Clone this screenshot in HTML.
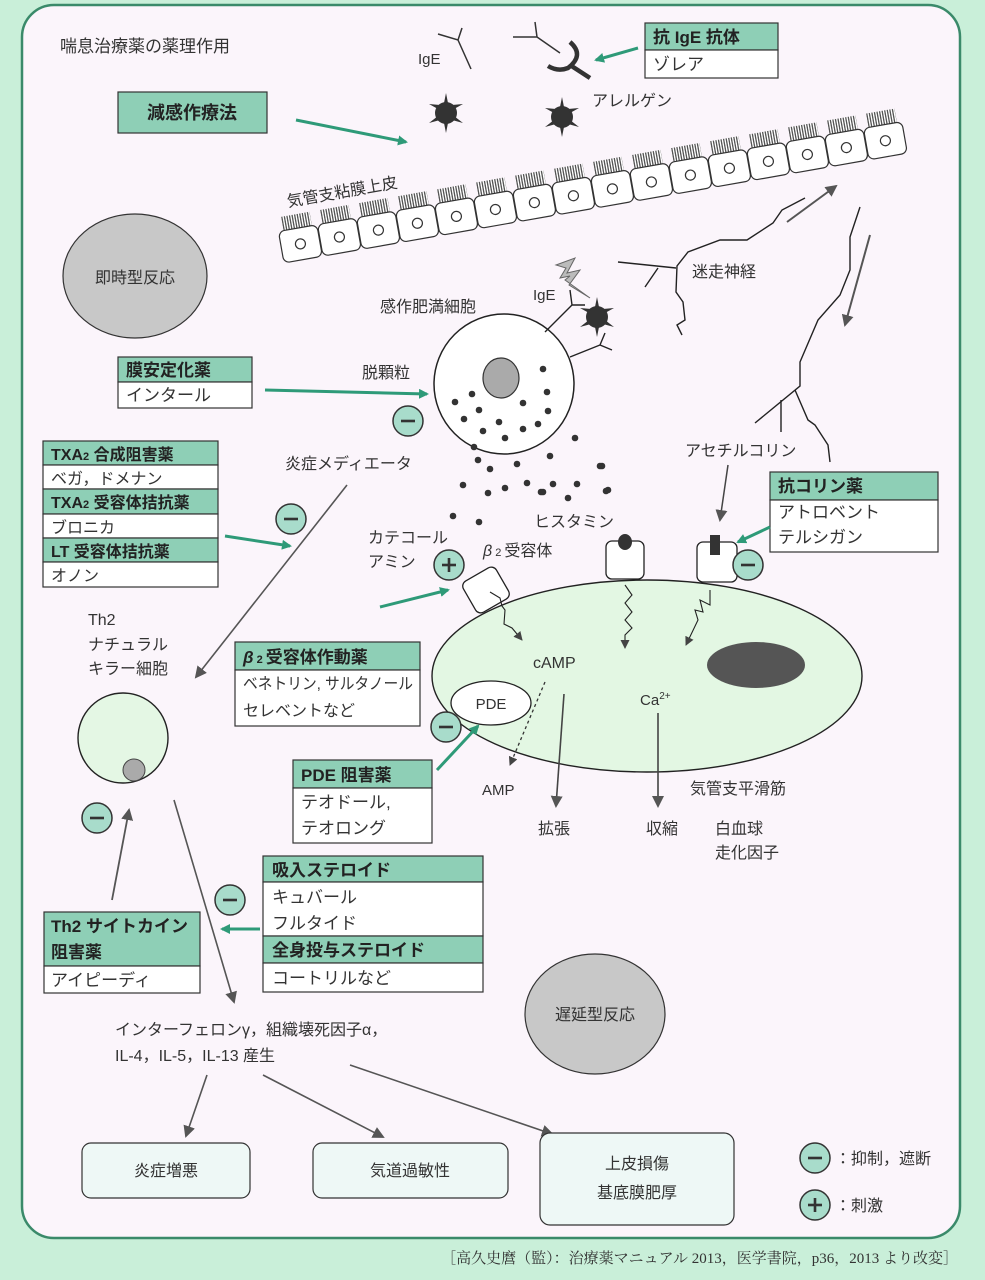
<!DOCTYPE html>
<html><head><meta charset="utf-8">
<style>
html,body{margin:0;padding:0;background:#c9efd9;}
svg{display:block;}
text{font-family:"Liberation Sans","Noto Sans CJK JP",sans-serif;fill:#333;}
.b{font-weight:bold;fill:#222;}
</style></head><body>
<svg width="985" height="1280" viewBox="0 0 985 1280" xmlns="http://www.w3.org/2000/svg">
<defs>
<marker id="ga" markerWidth="10" markerHeight="10" refX="8" refY="5" orient="auto" markerUnits="userSpaceOnUse" viewBox="0 0 10 10"><path d="M0,0 L10,5 L0,10 z" fill="#2e9a78"/></marker>
<marker id="ka" markerWidth="12" markerHeight="12" refX="10" refY="6" orient="auto" markerUnits="userSpaceOnUse" viewBox="0 0 12 12"><path d="M0,0 L12,6 L0,12 z" fill="#555"/></marker>
<marker id="sa" markerWidth="9" markerHeight="9" refX="8" refY="4.5" orient="auto" markerUnits="userSpaceOnUse" viewBox="0 0 9 9"><path d="M0,0 L9,4.5 L0,9 z" fill="#444"/></marker>
<pattern id="cil" width="2.6" height="20" patternUnits="userSpaceOnUse"><rect width="2.6" height="20" fill="#fff"/><rect width="1.3" height="20" fill="#555"/></pattern>
<g id="cell"><rect x="5" y="-14" width="29" height="14" fill="url(#cil)"/><rect x="0" y="0" width="39" height="32" rx="6" fill="#fff" stroke="#333" stroke-width="1.2"/><circle cx="19.5" cy="16" r="5" fill="#fff" stroke="#333" stroke-width="1.2"/></g>
<g id="al"><circle r="11" fill="#333"/><path d="M0,-20 L2,-10 L-2,-10 z M0,20 L2,10 L-2,10 z M-17,-9 L-8,-4 L-6,-8 z M17,-9 L8,-4 L6,-8 z M-17,10 L-8,3 L-6,7 z M17,10 L8,3 L6,7 z" fill="#333"/></g>
<g id="mi"><circle r="15" fill="#a8dccb" stroke="#333" stroke-width="1.5"/><rect x="-7" y="-1.3" width="14" height="2.6" fill="#333"/></g>
<g id="pl"><circle r="15" fill="#a8dccb" stroke="#333" stroke-width="1.5"/><rect x="-7" y="-1.3" width="14" height="2.6" fill="#333"/><rect x="-1.3" y="-7" width="2.6" height="14" fill="#333"/></g>
</defs>

<rect x="22" y="5" width="938" height="1233" rx="32" fill="#fbf5fb" stroke="#3a8a6a" stroke-width="2.5"/>

<text x="60" y="52" font-size="17">喘息治療薬の薬理作用</text>

<text x="418" y="64" font-size="15">IgE</text>
<path d="M438,34 L458,40 L462,28 M458,40 L471,69" stroke="#333" stroke-width="1.5" fill="none"/>
<use href="#al" x="446" y="113"/>
<use href="#al" x="562" y="117"/>
<text x="592" y="106" font-size="16">アレルゲン</text>
<path d="M513,37 L537,37 L535,22 M537,37 L560,53" stroke="#333" stroke-width="1.5" fill="none"/>
<path d="M570,42 Q585,55 568,68 Q558,72 548,66 M570,65 L590,78" stroke="#333" stroke-width="4.5" fill="none"/>
<line x1="638" y1="48" x2="596" y2="60" stroke="#2e9a78" stroke-width="3" marker-end="url(#ga)"/>
<rect x="645" y="23" width="133" height="27" fill="#8ecfb6" stroke="#333" stroke-width="1.2"/>
<rect x="645" y="50" width="133" height="28" fill="#fff" stroke="#333" stroke-width="1.2"/>
<text x="653" y="43" font-size="17" class="b">抗 IgE 抗体</text>
<text x="653" y="70" font-size="17">ゾレア</text>

<rect x="118" y="92" width="149" height="41" fill="#8ecfb6" stroke="#333" stroke-width="1.2"/>
<text x="147" y="119" font-size="18" class="b">減感作療法</text>
<line x1="296" y1="120" x2="406" y2="142" stroke="#2e9a78" stroke-width="3" marker-end="url(#ga)"/>

<g transform="translate(284,263) rotate(-10)">
<use href="#cell" x="0" y="-32"/><use href="#cell" x="39.6" y="-32"/><use href="#cell" x="79.2" y="-32"/><use href="#cell" x="118.8" y="-32"/>
<use href="#cell" x="158.4" y="-32"/><use href="#cell" x="198" y="-32"/><use href="#cell" x="237.6" y="-32"/><use href="#cell" x="277.2" y="-32"/>
<use href="#cell" x="316.8" y="-32"/><use href="#cell" x="356.4" y="-32"/><use href="#cell" x="396" y="-32"/><use href="#cell" x="435.6" y="-32"/>
<use href="#cell" x="475.2" y="-32"/><use href="#cell" x="514.8" y="-32"/><use href="#cell" x="554.4" y="-32"/><use href="#cell" x="594" y="-32"/>
</g>
<text x="288" y="207" font-size="16" transform="rotate(-10 288 207)">気管支粘膜上皮</text>

<ellipse cx="135" cy="276" rx="72" ry="62" fill="#c8c8c8" stroke="#333" stroke-width="1.2"/>
<text x="135" y="283" font-size="16" text-anchor="middle">即時型反応</text>

<polyline points="805,198 782,210 773,223 747,240 720,240 688,252 677,266 676,292 683,302 685,320 677,325 682,335" fill="none" stroke="#222" stroke-width="1.4"/>
<path d="M618,262 L676,268 M658,268 L645,287" stroke="#222" stroke-width="1.4" fill="none"/>
<polyline points="860,207 850,237 850,270 840,295 818,320 800,362 800,386 755,423" fill="none" stroke="#222" stroke-width="1.4"/>
<path d="M781,400 L781,432 M795,390 L808,420 L815,425 L828,445 L830,462" stroke="#222" stroke-width="1.4" fill="none"/>
<line x1="787" y1="222" x2="836" y2="186" stroke="#555" stroke-width="2" marker-end="url(#ka)"/>
<line x1="870" y1="235" x2="845" y2="325" stroke="#555" stroke-width="2" marker-end="url(#ka)"/>
<text x="692" y="277" font-size="16">迷走神経</text>

<circle cx="504" cy="384" r="70" fill="#fff" stroke="#222" stroke-width="1.5"/>
<ellipse cx="501" cy="378" rx="18" ry="20" fill="#aaa" stroke="#333" stroke-width="1.2"/>
<path d="M545,332 L572,305 L570,290 M572,305 L585,305 M570,357 L600,345 L605,333 M600,345 L612,350" stroke="#222" stroke-width="1.4" fill="none"/>
<use href="#al" x="597" y="317"/>
<path d="M556,265 L575,258 L567,273 L580,270 L569,285 L590,298 L565,280 L570,276 L560,278 L566,268 z" fill="#bbb" stroke="#666" stroke-width="1"/>
<text x="533" y="300" font-size="15">IgE</text>
<text x="380" y="312" font-size="16">感作肥満細胞</text>
<text x="362" y="378" font-size="16">脱顆粒</text>
<g fill="#333">
<circle cx="543" cy="369" r="3.3"/><circle cx="547" cy="392" r="3.3"/><circle cx="548" cy="411" r="3.3"/><circle cx="472" cy="394" r="3.3"/><circle cx="455" cy="402" r="3.3"/><circle cx="479" cy="410" r="3.3"/><circle cx="523" cy="403" r="3.3"/><circle cx="464" cy="419" r="3.3"/><circle cx="499" cy="422" r="3.3"/><circle cx="538" cy="424" r="3.3"/><circle cx="523" cy="429" r="3.3"/><circle cx="483" cy="431" r="3.3"/><circle cx="505" cy="438" r="3.3"/>
<circle cx="474" cy="447" r="3.3"/><circle cx="575" cy="438" r="3.3"/><circle cx="478" cy="460" r="3.3"/><circle cx="490" cy="469" r="3.3"/><circle cx="517" cy="464" r="3.3"/><circle cx="550" cy="456" r="3.3"/><circle cx="602" cy="466" r="3.3"/><circle cx="463" cy="485" r="3.3"/><circle cx="488" cy="493" r="3.3"/><circle cx="505" cy="488" r="3.3"/><circle cx="527" cy="483" r="3.3"/><circle cx="543" cy="492" r="3.3"/><circle cx="553" cy="484" r="3.3"/><circle cx="577" cy="484" r="3.3"/><circle cx="608" cy="490" r="3.3"/><circle cx="568" cy="498" r="3.3"/><circle cx="453" cy="516" r="3.3"/><circle cx="479" cy="522" r="3.3"/><circle cx="606" cy="491" r="3.3"/><circle cx="541" cy="492" r="3.3"/><circle cx="600" cy="466" r="3.3"/>
</g>
<text x="534" y="527" font-size="16">ヒスタミン</text>
<line x1="265" y1="390" x2="427" y2="394" stroke="#2e9a78" stroke-width="3" marker-end="url(#ga)"/>
<use href="#mi" x="408" y="421"/>

<rect x="118" y="357" width="134" height="25" fill="#8ecfb6" stroke="#333" stroke-width="1.2"/>
<rect x="118" y="382" width="134" height="26" fill="#fff" stroke="#333" stroke-width="1.2"/>
<text x="126" y="376" font-size="17" class="b">膜安定化薬</text>
<text x="126" y="401" font-size="17">インタール</text>

<g stroke="#333" stroke-width="1.2">
<rect x="43" y="441" width="175" height="24" fill="#8ecfb6"/><rect x="43" y="465" width="175" height="24" fill="#fff"/>
<rect x="43" y="489" width="175" height="25" fill="#8ecfb6"/><rect x="43" y="514" width="175" height="24" fill="#fff"/>
<rect x="43" y="538" width="175" height="24" fill="#8ecfb6"/><rect x="43" y="562" width="175" height="25" fill="#fff"/>
</g>
<text x="51" y="460" font-size="16" class="b">TXA<tspan font-size="11">2</tspan> 合成阻害薬</text>
<text x="51" y="484" font-size="16">ベガ，ドメナン</text>
<text x="51" y="508" font-size="16" class="b">TXA<tspan font-size="11">2</tspan> 受容体拮抗薬</text>
<text x="51" y="533" font-size="16">ブロニカ</text>
<text x="51" y="557" font-size="16" class="b">LT 受容体拮抗薬</text>
<text x="51" y="581" font-size="16">オノン</text>

<text x="285" y="469" font-size="16">炎症メディエータ</text>
<line x1="347" y1="485" x2="196" y2="677" stroke="#555" stroke-width="1.6" marker-end="url(#ka)"/>
<use href="#mi" x="291" y="519"/>
<line x1="225" y1="536" x2="290" y2="546" stroke="#2e9a78" stroke-width="3" marker-end="url(#ga)"/>

<text x="368" y="543" font-size="16">カテコール</text>
<text x="368" y="567" font-size="16">アミン</text>
<use href="#pl" x="449" y="565"/>
<text x="483" y="556" font-size="16"><tspan font-style="italic">β</tspan><tspan font-size="11"> 2 </tspan>受容体</text>
<line x1="380" y1="607" x2="448" y2="590" stroke="#2e9a78" stroke-width="3" marker-end="url(#ga)"/>

<text x="88" y="625" font-size="16">Th2</text>
<text x="88" y="650" font-size="16">ナチュラル</text>
<text x="88" y="674" font-size="16">キラー細胞</text>

<ellipse cx="647" cy="676" rx="215" ry="96" fill="#e3f7e3" stroke="#222" stroke-width="1.4"/>
<ellipse cx="756" cy="665" rx="49" ry="23" fill="#555"/>
<ellipse cx="491" cy="703" rx="40" ry="22" fill="#fff" stroke="#222" stroke-width="1.3"/>
<text x="491" y="709" font-size="15" text-anchor="middle">PDE</text>
<text x="533" y="668" font-size="16">cAMP</text>
<text x="640" y="705" font-size="15">Ca<tspan font-size="10" dy="-6">2+</tspan></text>
<line x1="545" y1="682" x2="510" y2="765" stroke="#333" stroke-width="1.3" stroke-dasharray="3,3" marker-end="url(#sa)"/>
<text x="482" y="795" font-size="15">AMP</text>
<line x1="564" y1="694" x2="556" y2="806" stroke="#444" stroke-width="1.6" marker-end="url(#ka)"/>
<line x1="658" y1="713" x2="658" y2="806" stroke="#444" stroke-width="1.6" marker-end="url(#ka)"/>
<text x="538" y="834" font-size="16">拡張</text>
<text x="646" y="834" font-size="16">収縮</text>
<text x="715" y="834" font-size="16">白血球</text>
<text x="715" y="858" font-size="16">走化因子</text>
<text x="690" y="794" font-size="16">気管支平滑筋</text>

<rect x="467" y="572" width="38" height="36" rx="6" fill="#fff" stroke="#222" stroke-width="1.3" transform="rotate(-30 486 590)"/>
<rect x="606" y="541" width="38" height="38" rx="6" fill="#fff" stroke="#222" stroke-width="1.3"/>
<ellipse cx="625" cy="542" rx="7" ry="8" fill="#333"/>
<rect x="697" y="542" width="40" height="40" rx="6" fill="#fff" stroke="#222" stroke-width="1.3"/>
<rect x="710" y="535" width="10" height="20" fill="#333"/>
<use href="#mi" x="748" y="565"/>
<line x1="728" y1="465" x2="720" y2="520" stroke="#444" stroke-width="1.5" marker-end="url(#ka)"/>
<polyline points="490,592 500,598 502,606 505,610 504,624 512,628 522,640" fill="none" stroke="#222" stroke-width="1.1" marker-end="url(#sa)"/>
<polyline points="625,585 632,595 625,603 632,612 625,620 632,628 625,635 625,648" fill="none" stroke="#222" stroke-width="1.1" marker-end="url(#sa)"/>
<polyline points="710,590 710,605 700,600 703,612 695,610 698,620 686,645" fill="none" stroke="#222" stroke-width="1.1" marker-end="url(#sa)"/>
<text x="685" y="456" font-size="16">アセチルコリン</text>

<rect x="770" y="472" width="168" height="28" fill="#8ecfb6" stroke="#333" stroke-width="1.2"/>
<rect x="770" y="500" width="168" height="52" fill="#fff" stroke="#333" stroke-width="1.2"/>
<text x="778" y="492" font-size="17" class="b">抗コリン薬</text>
<text x="778" y="518" font-size="17">アトロベント</text>
<text x="778" y="543" font-size="17">テルシガン</text>
<line x1="770" y1="527" x2="738" y2="542" stroke="#2e9a78" stroke-width="3" marker-end="url(#ga)"/>

<rect x="235" y="642" width="185" height="28" fill="#8ecfb6" stroke="#333" stroke-width="1.2"/>
<rect x="235" y="670" width="185" height="56" fill="#fff" stroke="#333" stroke-width="1.2"/>
<text x="243" y="663" font-size="17" class="b"><tspan font-style="italic">β</tspan><tspan font-size="11"> 2 </tspan>受容体作動薬</text>
<text x="243" y="689" font-size="16" textLength="170" lengthAdjust="spacingAndGlyphs">ベネトリン, サルタノール</text>
<text x="243" y="716" font-size="16">セレベントなど</text>

<rect x="293" y="760" width="139" height="28" fill="#8ecfb6" stroke="#333" stroke-width="1.2"/>
<rect x="293" y="788" width="139" height="55" fill="#fff" stroke="#333" stroke-width="1.2"/>
<text x="301" y="781" font-size="17" class="b">PDE 阻害薬</text>
<text x="301" y="808" font-size="17">テオドール,</text>
<text x="301" y="834" font-size="17">テオロング</text>
<line x1="437" y1="770" x2="478" y2="726" stroke="#2e9a78" stroke-width="3" marker-end="url(#ga)"/>
<use href="#mi" x="446" y="727"/>

<circle cx="123" cy="738" r="45" fill="#e4f7e4" stroke="#222" stroke-width="1.4"/>
<circle cx="134" cy="770" r="11" fill="#aaa" stroke="#444" stroke-width="1"/>
<use href="#mi" x="97" y="818"/>
<line x1="112" y1="900" x2="129" y2="810" stroke="#555" stroke-width="1.8" marker-end="url(#ka)"/>
<line x1="174" y1="800" x2="234" y2="1002" stroke="#555" stroke-width="1.6" marker-end="url(#ka)"/>

<rect x="44" y="912" width="156" height="54" fill="#8ecfb6" stroke="#333" stroke-width="1.2"/>
<rect x="44" y="966" width="156" height="27" fill="#fff" stroke="#333" stroke-width="1.2"/>
<text x="51" y="932" font-size="17" class="b">Th2 サイトカイン</text>
<text x="51" y="958" font-size="17" class="b">阻害薬</text>
<text x="51" y="986" font-size="17">アイピーディ</text>
<line x1="260" y1="929" x2="222" y2="929" stroke="#2e9a78" stroke-width="3" marker-end="url(#ga)"/>
<use href="#mi" x="230" y="900"/>

<g stroke="#333" stroke-width="1.2">
<rect x="263" y="856" width="220" height="26" fill="#8ecfb6"/><rect x="263" y="882" width="220" height="54" fill="#fff"/>
<rect x="263" y="936" width="220" height="27" fill="#8ecfb6"/><rect x="263" y="963" width="220" height="29" fill="#fff"/>
</g>
<text x="272" y="876" font-size="17" class="b">吸入ステロイド</text>
<text x="272" y="903" font-size="17">キュバール</text>
<text x="272" y="929" font-size="17">フルタイド</text>
<text x="272" y="956" font-size="17" class="b">全身投与ステロイド</text>
<text x="272" y="984" font-size="17">コートリルなど</text>

<ellipse cx="595" cy="1014" rx="70" ry="60" fill="#c8c8c8" stroke="#333" stroke-width="1.2"/>
<text x="595" y="1020" font-size="16" text-anchor="middle">遅延型反応</text>

<text x="115" y="1035" font-size="16">インターフェロンγ，組織壊死因子α，</text>
<text x="115" y="1061" font-size="16">IL-4，IL-5，IL-13 産生</text>
<line x1="207" y1="1075" x2="186" y2="1136" stroke="#555" stroke-width="1.6" marker-end="url(#ka)"/>
<line x1="263" y1="1075" x2="383" y2="1137" stroke="#555" stroke-width="1.6" marker-end="url(#ka)"/>
<line x1="350" y1="1065" x2="552" y2="1134" stroke="#555" stroke-width="1.6" marker-end="url(#ka)"/>

<rect x="82" y="1143" width="168" height="55" rx="9" fill="#eef8f6" stroke="#333" stroke-width="1.2"/>
<text x="166" y="1176" font-size="16" text-anchor="middle">炎症増悪</text>
<rect x="313" y="1143" width="195" height="55" rx="9" fill="#eef8f6" stroke="#333" stroke-width="1.2"/>
<text x="410" y="1176" font-size="16" text-anchor="middle">気道過敏性</text>
<rect x="540" y="1133" width="194" height="92" rx="10" fill="#eef8f6" stroke="#333" stroke-width="1.2"/>
<text x="637" y="1169" font-size="16" text-anchor="middle">上皮損傷</text>
<text x="637" y="1198" font-size="16" text-anchor="middle">基底膜肥厚</text>

<use href="#mi" x="815" y="1158"/>
<text x="835" y="1164" font-size="16">：抑制，遮断</text>
<use href="#pl" x="815" y="1205"/>
<text x="835" y="1211" font-size="16">：刺激</text>

<text x="958" y="1263" font-size="15" text-anchor="end" style="font-family:'Liberation Serif','Noto Serif CJK SC',serif">［高久史麿（監）：治療薬マニュアル 2013，医学書院，p36，2013 より改変］</text>
</svg>
</body></html>
